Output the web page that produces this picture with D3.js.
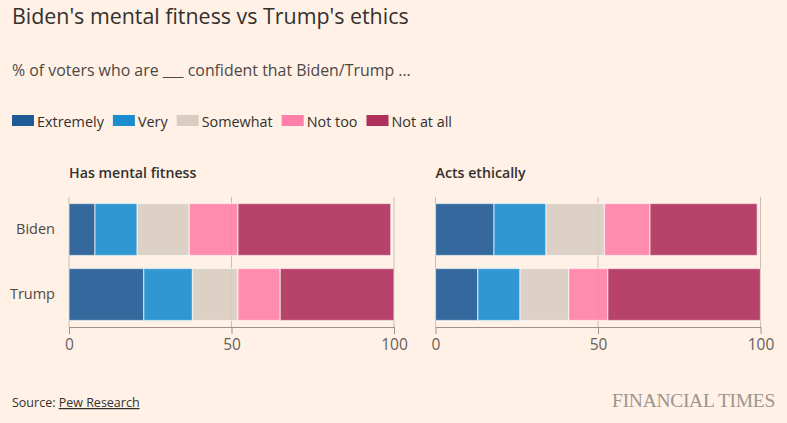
<!DOCTYPE html>
<html>
<head>
<meta charset="utf-8">
<script src="https://cdn.jsdelivr.net/npm/d3@7"></script>
<style>
  body { margin: 0; background: #fff1e5; }
  svg { display: block; font-family: "Open Sans", "Noto Sans", sans-serif; }
</style>
</head>
<body>
<svg id="chart" width="787" height="423"></svg>
<script>
// data
const categories = ["Extremely", "Very", "Somewhat", "Not too", "Not at all"];
const colors = ["#1f5a95", "#1b8dcf", "#d9ccc1", "#ff7fa9", "#b0305c"];
const people = ["Biden", "Trump"];
const panels = ["Has mental fitness", "Acts ethically"];
const fitnessBiden = [8, 13, 16, 15, 47];
const fitnessTrump = [23, 15, 14, 13, 35];
const ethicsBiden = [18, 16, 18, 14, 33];
const ethicsTrump = [13, 13, 15, 12, 47];
const ticks = [0, 50, 100];

const panelData = [
    [fitnessBiden, fitnessTrump],
    [ethicsBiden, ethicsTrump]
];

const svg = d3.select("#chart");
svg.append("rect").attr("width", 787).attr("height", 423).attr("fill", "#fff1e5");

// header
svg.append("text").attr("x", 12).attr("y", 24)
    .attr("font-size", 21.4).attr("fill", "#33302e")
    .text("Biden's mental fitness vs Trump's ethics");
svg.append("text").attr("x", 12).attr("y", 76)
    .attr("font-size", 15.9).attr("fill", "#4d4845")
    .text("% of voters who are ___ confident that Biden/Trump ...");

// legend
const legend = svg.append("g").attr("transform", "translate(12,115)");
let lx = 0;
categories.forEach((c, i) => {
    const g = legend.append("g").attr("transform", `translate(${lx},0)`);
    g.append("rect").attr("width", 22).attr("height", 11).attr("fill", colors[i]);
    const t = g.append("text").attr("x", 25).attr("y", 11.5)
        .attr("font-size", 14.4).attr("fill", "#33302e").text(c);
    lx += 25 + t.node().getComputedTextLength() + 9;
});

const color = d3.scaleOrdinal().domain(categories).range(colors);

const y = d3.scaleBand().domain(people).range([197, 327])
    .paddingInner(0.2).paddingOuter(0.1);

const panelLeft = [69, 435.5];
const panelWidth = 325;

panels.forEach((name, p) => {
    const x = d3.scaleLinear().domain([0, 100])
        .range([panelLeft[p], panelLeft[p] + panelWidth]);
    const g = svg.append("g");

    g.append("text").attr("x", panelLeft[p]).attr("y", 178)
        .attr("font-size", 14.2).attr("font-weight", 600).attr("fill", "#33302e")
        .text(name);

    // gridlines
    g.selectAll(".grid").data(ticks).enter().append("line")
        .attr("x1", d => x(d)).attr("x2", d => x(d))
        .attr("y1", 197).attr("y2", 327)
        .attr("stroke", "#c9bdb3").attr("stroke-width", 1);

    // stacked bars
    people.forEach((who, r) => {
        const vals = panelData[p][r];
        let cum = 0;
        const segs = vals.map((v, i) => {
            const s = {cat: categories[i], x0: cum, x1: cum + v};
            cum += v;
            return s;
        });
        g.selectAll(null).data(segs).enter().append("rect")
            .attr("x", d => x(d.x0))
            .attr("y", y(who))
            .attr("width", d => x(d.x1) - x(d.x0))
            .attr("height", y.bandwidth())
            .attr("fill", d => color(d.cat))
            .attr("fill-opacity", 0.9)
            .attr("stroke", "#ffffff")
            .attr("stroke-opacity", 0.55)
            .attr("stroke-width", 1.3);
    });

    // x axis
    const axis = g.append("g").attr("transform", "translate(0,327)")
        .call(d3.axisBottom(x).tickValues(ticks).tickSize(7).tickSizeOuter(0).tickPadding(5));
    axis.select(".domain").attr("stroke", "#9e928a");
    axis.selectAll(".tick line").attr("stroke", "#9e928a");
    axis.selectAll(".tick text").attr("font-size", 15.5).attr("fill", "#66605c")
        .attr("font-family", "Open Sans, Noto Sans, sans-serif");

    if (p === 0) {
        const yAxis = g.append("g").attr("transform", `translate(${panelLeft[0]},0)`)
            .call(d3.axisLeft(y).tickSize(0).tickPadding(14));
        yAxis.select(".domain").remove();
        yAxis.selectAll(".tick text").attr("font-size", 14.5).attr("fill", "#4d4845")
            .attr("font-family", "Open Sans, Noto Sans, sans-serif");
    }
});

// footer
const src = svg.append("text").attr("x", 12).attr("y", 407)
    .attr("font-size", 12.5).attr("fill", "#33302e");
src.append("tspan").text("Source: ");
src.append("tspan").attr("text-decoration", "underline").text("Pew Research");

svg.append("text").attr("x", 775).attr("y", 407).attr("text-anchor", "end")
    .attr("font-family", "Liberation Serif, DejaVu Serif, serif")
    .attr("font-size", 19.5).attr("fill", "#9e948c")
    .attr("letter-spacing", -0.3)
    .text("FINANCIAL TIMES");
</script>
</body>
</html>
